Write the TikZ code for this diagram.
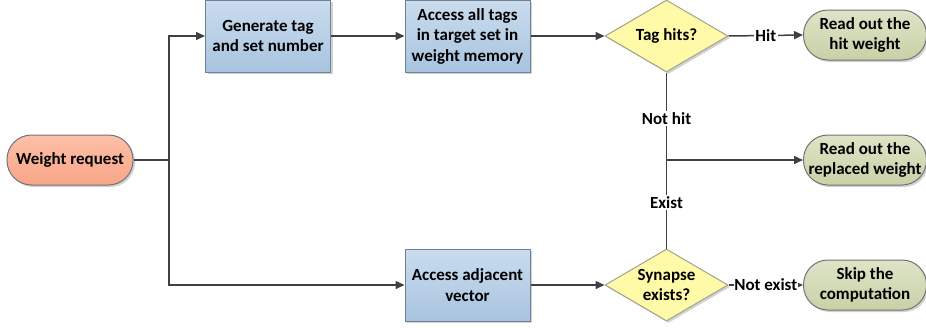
\documentclass[tikz,border=0pt]{standalone}
\usepackage{fontspec}
\setmainfont{Carlito}
\usetikzlibrary{shapes.geometric,arrows.meta,shadows}

\definecolor{lnc}{HTML}{404040}
\definecolor{boxtop}{HTML}{CADCEE}
\definecolor{boxbot}{HTML}{A8C4DF}
\definecolor{boxln}{HTML}{6F8197}
\definecolor{decfill}{HTML}{FFFAA8}
\definecolor{decln}{HTML}{A3A28A}
\definecolor{endtop}{HTML}{DEE4C7}
\definecolor{endbot}{HTML}{C8D1A7}
\definecolor{reqtop}{HTML}{FDC0A8}
\definecolor{reqbot}{HTML}{F8A588}

\tikzset{
  every node/.style={font=\fontsize{17}{20.5}\selectfont\bfseries, align=center},
  shad/.style={drop shadow={shadow xshift=2pt, shadow yshift=-2pt, fill=black!35, opacity=.5}},
  box/.style={rectangle, draw=boxln, line width=1pt, top color=boxtop, bottom color=boxbot,
    minimum width=125pt, minimum height=72pt, inner sep=1pt, shad},
  decision/.style={diamond, draw=decln, line width=1pt, fill=decfill,
    minimum width=123pt, minimum height=72pt, inner sep=-5pt, shad},
  term/.style={rectangle, rounded corners=24.5pt, draw=black!55, line width=1pt,
    top color=endtop, bottom color=endbot, text width=113pt, inner xsep=5pt,
    align=flush center, minimum width=123pt, minimum height=50pt, shad},
  start/.style={term, top color=reqtop, bottom color=reqbot, text width=116pt},
  line/.style={draw=lnc, line width=1.5pt},
  arrow/.style={line, -{Triangle[length=9pt,width=8pt]}},
  lbl/.style={fill=white, inner sep=1.5pt}
}

\begin{document}
\begin{tikzpicture}[x=1pt, y=-1pt]
  \useasboundingbox (0,0) rectangle (926,327);

  % knoten
  \node[start] (req) at (70,160) {Weight request};
  \node[box] (gen) at (268,36) {Generate tag\\and set number};
  \node[box] (tags) at (467.5,36) {Access all tags\\in target set in\\weight memory};
  \node[box] (adj) at (467.5,285) {Access adjacent\\vector};
  \node[decision] (hit) at (666.5,36) {Tag hits?};
  \node[decision] (syn) at (666.5,285) {Synapse\\exists?};
  \node[term] (rdhit) at (865,35) {Read out the\\hit weight};
  \node[term] (rdrep) at (865,160) {Read out the\\replaced~weight};
  \node[term] (skip) at (865,285) {Skip the\\computation};

  % verbindungen
  \draw[line] (req.east) -- (169,160) coordinate (split);
  \draw[arrow] (split) |- (gen.west);
  \draw[arrow] (split) |- (adj.west);
  \draw[arrow] (gen) -- (tags);
  \draw[arrow] (tags) -- (hit);
  \draw[arrow] (adj) -- (syn);
  \draw[arrow] (hit.east) -- node[lbl] {Hit} (rdhit.west);
  \draw[arrow] (syn.east) -- node[lbl, inner sep=0.5pt] {Not exist} (skip.west);
  \draw[line] (hit.south) -- node[lbl, pos=.26] {Not hit} node[lbl, pos=.74] {Exist} (syn.north);
  \draw[arrow] (hit.south |- rdrep.west) -- (rdrep.west);

\end{tikzpicture}
\end{document}
